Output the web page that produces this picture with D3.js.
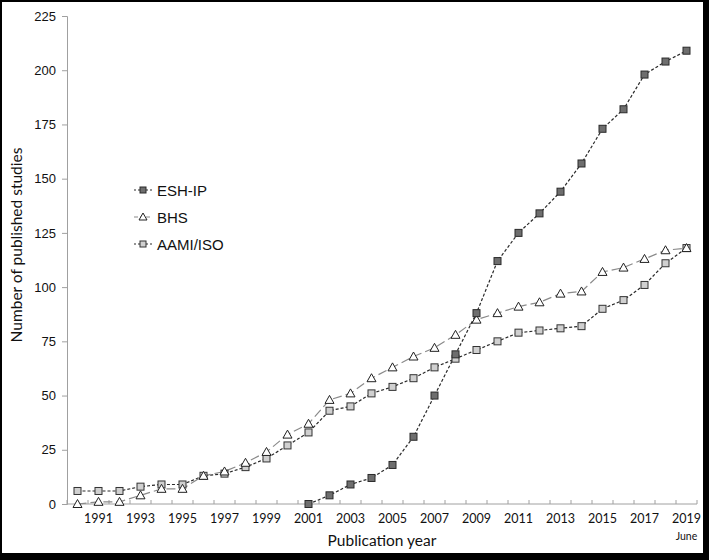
<!DOCTYPE html>
<html><head><meta charset="utf-8">
<script src="https://cdn.jsdelivr.net/npm/d3@7/dist/d3.min.js"></script>
<style>body{margin:0;background:#fff}svg{display:block}</style>
</head><body>
<script>
const years = d3.range(1990, 2020);
const yTicks = [0,25,50,75,100,125,150,175,200,225];
const xTickLabels = [1991,1993,1995,1997,1999,2001,2003,2005,2007,2009,2011,2013,2015,2017,2019];
const eshYears = d3.range(2001, 2020);
const eshValues = [0,4,9,12,18,31,50,69,88,112,125,134,144,157,173,182,198,204,209];
const bhsValues = [0,1,1,4,7,7,13,15,19,24,32,37,48,51,58,63,68,72,78,85,88,91,93,97,98,107,109,113,117,118];
const aamiValues = [6,6,6,8,9,9,13,14,17,21,27,33,43,45,51,54,58,63,67,71,75,79,80,81,82,90,94,101,111,118];
const seriesNames = ["ESH-IP","BHS","AAMI/ISO"];

const W=709,H=560;
const svg=d3.select("body").append("svg").attr("width",W).attr("height",H);
svg.append("rect").attr("width",W).attr("height",H).attr("fill","#fff");

const x=d3.scaleBand().domain(years).range([67,697]);
const y=d3.scaleLinear().domain([0,225]).range([504,16]);
const cx=d=>x(d)+x.bandwidth()/2;

// y axis
const ya=svg.append("g").attr("transform","translate(67,0)")
  .call(d3.axisLeft(y).tickValues(yTicks).tickSize(5).tickPadding(6));
ya.select(".domain").attr("stroke","#a0a0a0");
ya.selectAll(".tick line").attr("stroke","#a0a0a0");
ya.selectAll("text").attr("font-family","Liberation Sans, Arial").attr("font-size",13).attr("fill","#111");

// x axis
const xa=svg.append("g").attr("transform","translate(0,504)");
xa.append("line").attr("x1",67).attr("x2",697).attr("stroke","#a0a0a0");
xa.selectAll(".xt").data(years.concat([2020])).enter().append("line")
  .attr("x1",d=>d===2020?697:x(d)).attr("x2",d=>d===2020?697:x(d))
  .attr("y1",0).attr("y2",-4).attr("stroke","#a0a0a0");
xa.selectAll(".xl").data(xTickLabels).enter().append("text")
  .attr("x",d=>cx(d)).attr("y",19).attr("text-anchor","middle")
  .attr("font-family","Lato, Carlito, sans-serif").attr("font-size",12.5).attr("fill","#111")
  .text(d=>d);
svg.append("text").attr("x",cx(2019)).attr("y",540).attr("text-anchor","middle")
  .attr("font-family","Lato, sans-serif").attr("font-size",10.5).attr("fill","#111").text("June");

// titles
svg.append("text").attr("x",382).attr("y",546).attr("text-anchor","middle")
  .attr("font-family","Lato, sans-serif").attr("font-size",15.5).attr("fill","#111").text("Publication year");
svg.append("text").attr("transform","translate(22,245) rotate(-90)").attr("text-anchor","middle")
  .attr("font-family","Lato, sans-serif").attr("font-size",15.5).attr("fill","#111").text("Number of published studies");

const styles={
  "ESH-IP":{dash:"3,2",stroke:"#2a2a2a",fill:"#6e6e6e",mstroke:"#2a2a2a",shape:"square"},
  "BHS":{dash:"9,4",stroke:"#8a8a8a",fill:"#ffffff",mstroke:"#222",shape:"triangle"},
  "AAMI/ISO":{dash:"3,2",stroke:"#2a2a2a",fill:"#d0d0d0",mstroke:"#333",shape:"square"}
};
const data={
  "ESH-IP":eshYears.map((yr,i)=>({yr,v:eshValues[i]})),
  "BHS":years.map((yr,i)=>({yr,v:bhsValues[i]})),
  "AAMI/ISO":years.map((yr,i)=>({yr,v:aamiValues[i]}))
};
const line=d3.line().x(d=>cx(d.yr)).y(d=>y(d.v));
function marker(g,shape,px,py,s,sz){
  const h=sz/2;
  if(shape==="square"){
    g.append("rect").attr("x",px-h).attr("y",py-h).attr("width",sz).attr("height",sz)
      .attr("fill",s.fill).attr("stroke",s.mstroke).attr("stroke-width",1);
  } else {
    g.append("path").attr("d",`M${px},${py-h-1}L${px+h+1},${py+h}L${px-h-1},${py+h}Z`)
      .attr("fill",s.fill).attr("stroke",s.mstroke).attr("stroke-width",1);
  }
}
["AAMI/ISO","BHS","ESH-IP"].forEach(name=>{
  const s=styles[name];
  svg.append("path").datum(data[name]).attr("d",line).attr("fill","none")
    .attr("stroke",s.stroke).attr("stroke-width",1.2).attr("stroke-dasharray",s.dash);
});
["AAMI/ISO","BHS","ESH-IP"].forEach(name=>{
  const s=styles[name];const g=svg.append("g");
  data[name].forEach(d=>marker(g,s.shape,cx(d.yr),y(d.v),s,7));
});

// legend
const ly=[190,217,244];
seriesNames.forEach((name,i)=>{
  const s=styles[name];const g=svg.append("g");
  g.append("line").attr("x1",134).attr("x2",152).attr("y1",ly[i]).attr("y2",ly[i])
    .attr("stroke",s.stroke).attr("stroke-width",1.2).attr("stroke-dasharray",name==="BHS"?"4,2":"2,2");
  marker(g,s.shape,143,ly[i],s,6);
  g.append("text").attr("x",157).attr("y",ly[i]+5.5).attr("font-family","Liberation Sans, Arial")
    .attr("font-size",15).attr("fill","#111").text(name);
});

// frame
svg.append("rect").attr("x",1).attr("y",1).attr("width",W-2).attr("height",H-2).attr("fill","none").attr("stroke","#000").attr("stroke-width",2);
svg.append("rect").attr("x",703).attr("y",0).attr("width",6).attr("height",H).attr("fill","#000");
svg.append("rect").attr("x",0).attr("y",553).attr("width",W).attr("height",7).attr("fill","#000");
</script>
</body></html>
